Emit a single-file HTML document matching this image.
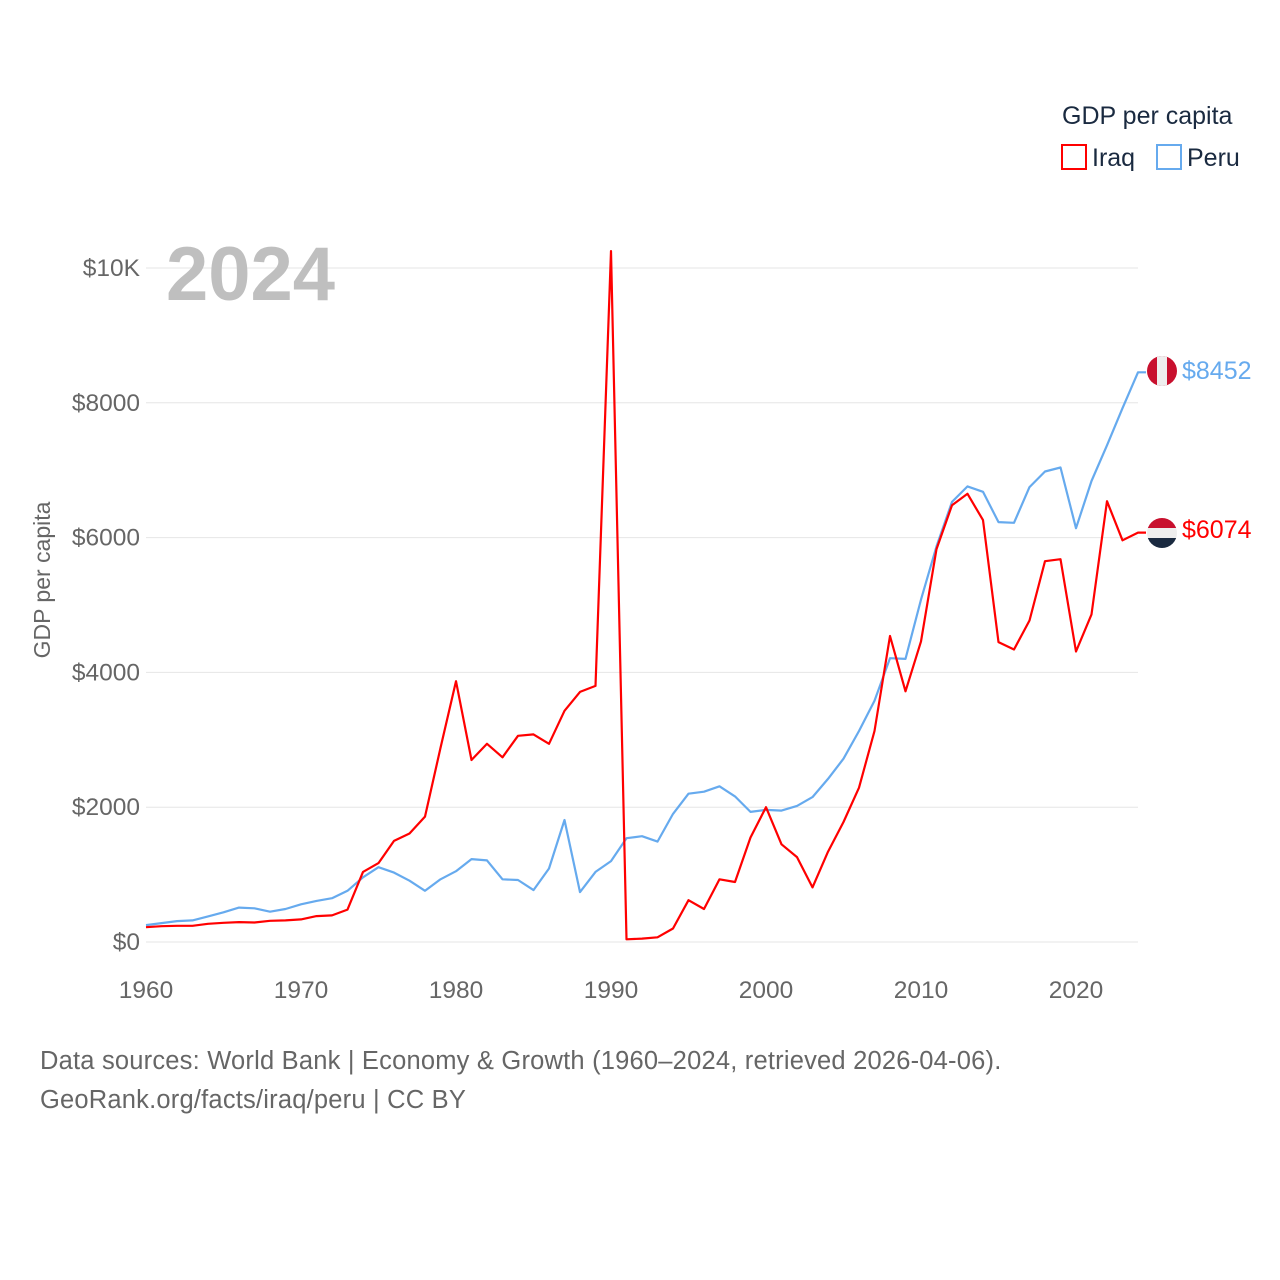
<!DOCTYPE html>
<html><head><meta charset="utf-8"><style>
body{margin:0;background:#fff;font-family:"Liberation Sans",sans-serif;}
svg{display:block}
</style></head><body>
<svg id="chart" width="1280" height="1280">
<g id="grid"></g>
<g id="yt"></g>
<g id="xt"></g>
<text x="166" y="300" font-size="76" font-weight="bold" fill="#bfbfbf">2024</text>
<text transform="translate(50,580) rotate(-90)" text-anchor="middle" font-size="23" fill="#666">GDP per capita</text>
<g id="lines"></g>
<text x="1062" y="124" font-size="25" fill="#1a2a40">GDP per capita</text>
<g><rect x="1062" y="145" width="24" height="24" fill="none" stroke="#f00" stroke-width="2"/><text x="1092" y="166" font-size="25" fill="#1a2a40">Iraq</text></g>
<g><rect x="1157" y="145" width="24" height="24" fill="none" stroke="#66aaee" stroke-width="2"/><text x="1187" y="166" font-size="25" fill="#1a2a40">Peru</text></g>
<g><clipPath id="c1"><circle cx="1162" cy="371" r="15"/></clipPath><g clip-path="url(#c1)"><rect x="1147" y="356" width="30" height="30" fill="#c8102e"/><rect x="1157" y="356" width="10" height="30" fill="#eee"/></g></g>
<g><clipPath id="c2"><circle cx="1162" cy="533" r="15"/></clipPath><g clip-path="url(#c2)"><rect x="1147" y="518" width="30" height="10" fill="#c8102e"/><rect x="1147" y="528" width="30" height="10" fill="#eee"/><rect x="1147" y="538" width="30" height="10" fill="#1a2a40"/></g></g>
<text x="1182" y="379" font-size="25" fill="#66aaee">$8452</text>
<text x="1182" y="538" font-size="25" fill="#f00">$6074</text>
<text x="40" y="1069" font-size="25.5" letter-spacing="0.2" fill="#666">Data sources: World Bank | Economy &amp; Growth (1960–2024, retrieved 2026-04-06).</text>
<text x="40" y="1108" font-size="25.5" letter-spacing="0.2" fill="#666">GeoRank.org/facts/iraq/peru | CC BY</text>
</svg>
<script>
const startYear = 1960;
const iraq = [220,235,240,240,270,285,295,290,315,320,335,385,395,480,1040,1170,1500,1610,1860,2880,3870,2700,2940,2740,3060,3080,2940,3430,3710,3800,10250,40,50,70,200,620,490,930,890,1550,2000,1450,1260,810,1340,1780,2290,3130,4540,3720,4460,5830,6480,6650,6260,4450,4340,4770,5650,5680,4310,4860,6540,5960,6074];
const peru = [250,280,310,320,380,440,510,500,450,490,560,610,650,760,960,1110,1030,910,760,930,1050,1230,1210,930,920,770,1090,1810,740,1040,1200,1540,1570,1490,1900,2200,2230,2310,2160,1930,1960,1950,2020,2150,2420,2720,3130,3580,4210,4200,5080,5870,6530,6760,6680,6230,6220,6750,6980,7040,6140,6840,7370,7920,8452];
const yTicks = [0,2000,4000,6000,8000,10000];
const yLabels = ["$0","$2000","$4000","$6000","$8000","$10K"];
const xTicks = [1960,1970,1980,1990,2000,2010,2020];
const NS="http://www.w3.org/2000/svg";
const xs = y => 146 + (y-1960)*15.5;
const ys = v => 942 - v*0.0674;
function mk(tag,attrs,parent){const e=document.createElementNS(NS,tag);for(const k in attrs)e.setAttribute(k,attrs[k]);document.getElementById(parent).appendChild(e);return e;}
yTicks.forEach((t,i)=>{
  const l=mk('line',{x1:146,x2:1138,y1:ys(t),y2:ys(t),stroke:'#e6e6e6','stroke-width':1},'grid');
  
  
  const tx=mk('text',{x:140,y:ys(t)+8,'text-anchor':'end','font-size':24.5,fill:'#666'},'yt');
  tx.textContent=yLabels[i];
  
  
});
xTicks.forEach(t=>{
  const tx=mk('text',{x:xs(t),y:998,'text-anchor':'middle','font-size':24.5,fill:'#666'},'xt');
  tx.textContent=t;
  
  
});
function line(arr,color,name){
  let d=arr.map((v,i)=>(i?'L':'M')+xs(startYear+i).toFixed(1)+','+ys(v).toFixed(1)).join('');
  d+='L1146,'+ys(arr[arr.length-1]).toFixed(1);
  const p=mk('path',{d:d,fill:'none',stroke:color,'stroke-width':2.2,'stroke-linejoin':'round'},'lines');
  
  
}
line(peru,'#66aaee','peru-line');
line(iraq,'#ff0000','iraq-line');
</script>
</body></html>
